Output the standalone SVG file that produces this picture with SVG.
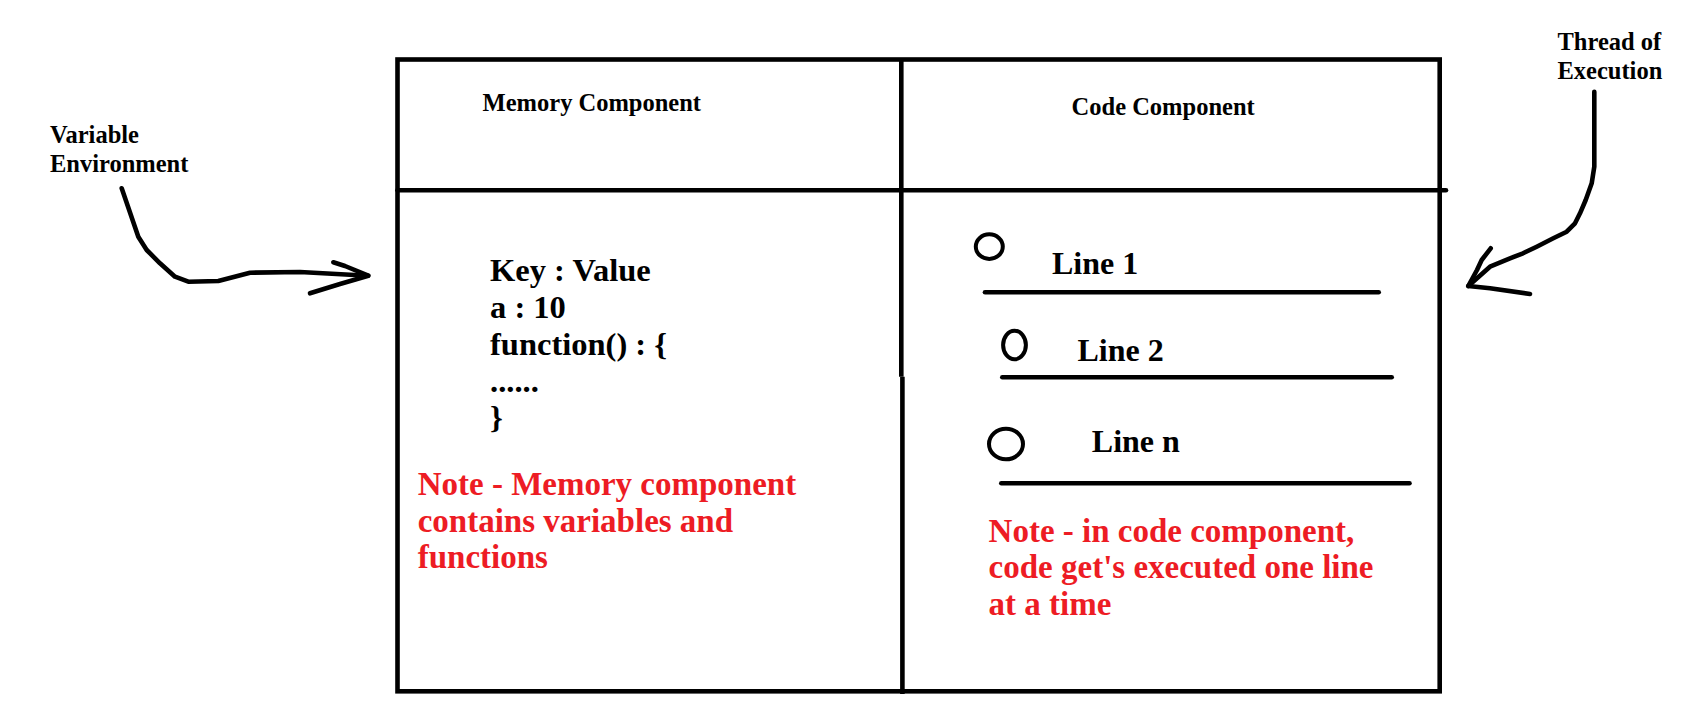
<svg xmlns="http://www.w3.org/2000/svg" width="1696" height="727" viewBox="0 0 1696 727">
<style>
text{font-family:"Liberation Serif","Times New Roman",serif;font-weight:bold;fill:#000}
.hdr{font-size:24.5px}
.kv{font-size:32.5px}
.ln{font-size:32px}
.note{font-size:33px;fill:#ED1C24}
.box{fill:none;stroke:#000;stroke-width:4.6}
.rule{stroke:#000;stroke-width:4.6;stroke-linecap:round;fill:none}
.dot{fill:none;stroke:#000;stroke-width:4}
.conn{fill:none;stroke:#000;stroke-width:4.6;stroke-linecap:round;stroke-linejoin:round}
</style>
<rect width="1696" height="727" fill="#fff"/>
<g id="frame">
<rect class="box" x="397.5" y="59.5" width="1042.2" height="631.8"/>
<line x1="901.3" y1="59.5" x2="901.3" y2="376.8" stroke="#000" stroke-width="4.6"/>
<line x1="902.4" y1="376.8" x2="902.4" y2="694" stroke="#000" stroke-width="4.6"/>
<line x1="397.5" y1="190.3" x2="1446" y2="190.3" stroke="#000" stroke-width="4.6" stroke-linecap="round"/>
</g>
<g id="memory-component">
<text class="hdr" x="482.6" y="110.7">Memory Component</text>
<text class="kv" x="490" y="281">Key : Value</text>
<text class="kv" x="490" y="317.7">a : 10</text>
<text class="kv" x="490" y="355">function() : {</text>
<text class="kv" x="490" y="391.7">......</text>
<text class="kv" x="490" y="428.3">}</text>
<text class="note" x="417.7" y="495">Note - Memory component</text>
<text class="note" x="417.7" y="531.7">contains variables and</text>
<text class="note" x="417.7" y="567.7">functions</text>
</g>
<g id="code-component">
<text class="hdr" x="1071.6" y="115">Code Component</text>
<ellipse class="dot" cx="989.3" cy="246.6" rx="13.5" ry="12.3"/>
<text class="ln" x="1052" y="274.3">Line 1</text>
<line class="rule" x1="985" y1="292.3" x2="1378.7" y2="292.3"/>
<ellipse class="dot" cx="1014.5" cy="345" rx="11.4" ry="14.3"/>
<text class="ln" x="1077.5" y="361">Line 2</text>
<line class="rule" x1="1002.3" y1="377.3" x2="1391.7" y2="377.3"/>
<ellipse class="dot" cx="1006" cy="444" rx="17" ry="15.3"/>
<text class="ln" x="1091.8" y="451.7">Line n</text>
<line class="rule" x1="1001.3" y1="483.3" x2="1409.5" y2="483.3"/>
<text class="note" x="988.6" y="541.7">Note - in code component,</text>
<text class="note" x="988.6" y="578.3">code get's executed one line</text>
<text class="note" x="988.6" y="615">at a time</text>
</g>
<g id="variable-environment">
<text class="hdr" x="50" y="142.7">Variable</text>
<text class="hdr" x="50" y="171.7">Environment</text>
</g>
<g id="thread-of-execution">
<text class="hdr" x="1557.5" y="50">Thread of</text>
<text class="hdr" x="1557.5" y="79">Execution</text>
</g>
<g id="connectors">
<path class="conn" d="M121.7,188.3 L138.3,236.7 L146.7,250 L160,263.3 L175,276.7 L188.3,281.7 L218.3,281 L250,272.7 L300,272 L368.3,275.7"/>
<path class="conn" d="M333.3,262.3 L345,266 L368.3,275.7 L340,284 L310,293.3"/>
<path class="conn" d="M1594.3,91.7 L1594.3,166.7 L1591.7,183.3 L1585.7,200 L1580,213.3 L1575,223.3 L1566.7,231.7 L1553.3,238.3 L1536.7,246.7 L1523,253.3 L1510,258.3 L1490,266.7 L1468.3,286"/>
<path class="conn" d="M1490.7,248.3 L1481.7,260 L1477,270 L1468.3,286 L1490,288.3 L1530,294"/>
</g>
</svg>
